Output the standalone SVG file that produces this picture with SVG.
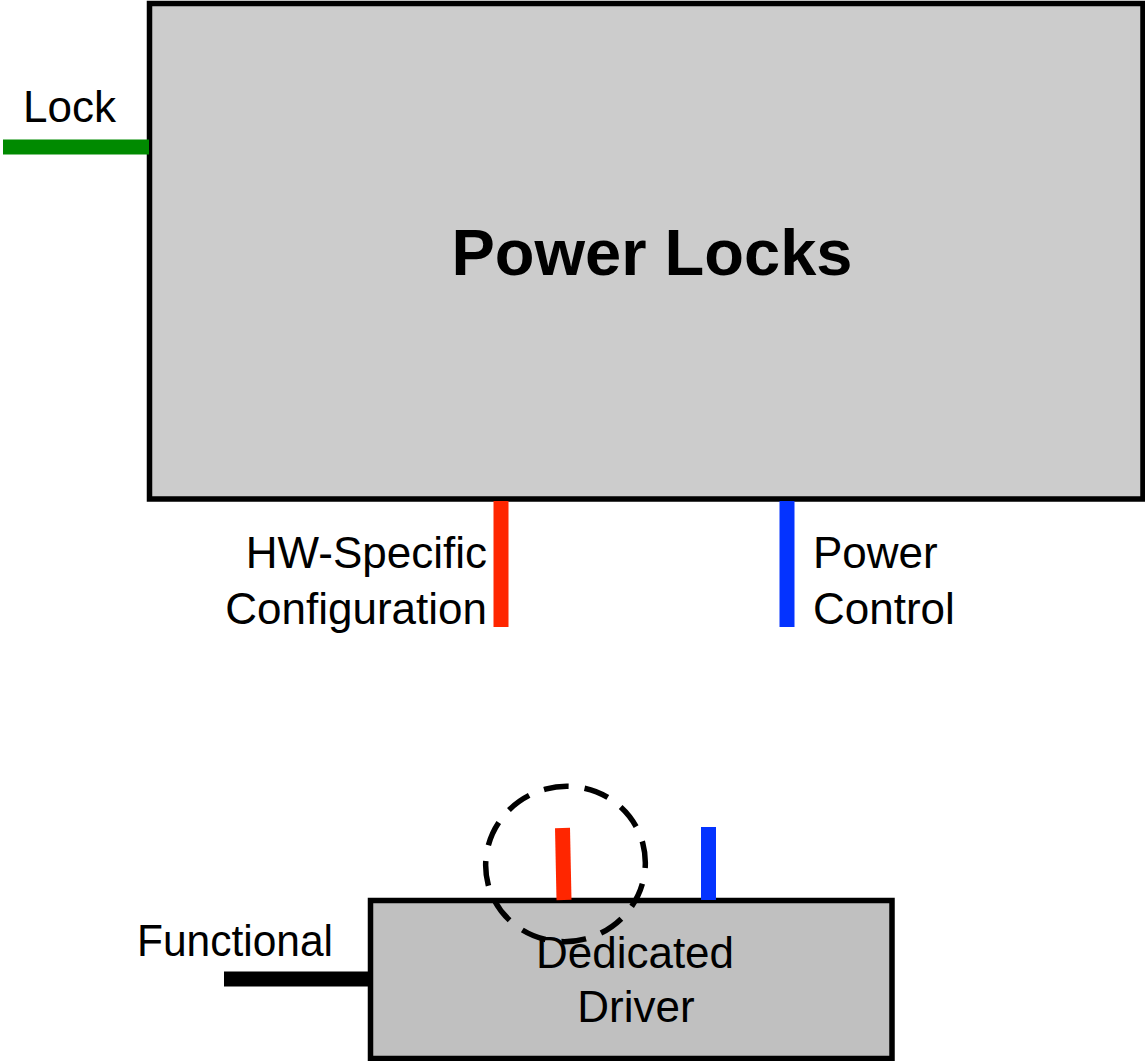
<svg xmlns="http://www.w3.org/2000/svg" width="1145" height="1061" viewBox="0 0 1145 1061">
  <style>
    .lbl { font-family: "Liberation Sans", Arial, sans-serif; font-size: 44px; fill: #000; }
    .title { font-family: "Liberation Sans", Arial, sans-serif; font-size: 65px; font-weight: bold; fill: #000; }
    .box { stroke: #000; stroke-width: 5.5; }
    .stub { stroke-width: 15; fill: none; }
  </style>
  <rect width="1145" height="1061" fill="#fff"/>
  <g id="power-locks">
    <rect class="box" x="149.5" y="3.5" width="993.5" height="495.5" fill="#cccccc"/>
    <text class="title" x="652" y="275" text-anchor="middle">Power Locks</text>
  </g>
  <g id="dedicated-driver">
    <rect class="box" x="370.5" y="900.5" width="521.5" height="158" fill="#c0c0c0"/>
    <text class="lbl" x="635" y="968" text-anchor="middle">Dedicated</text>
    <text class="lbl" x="636" y="1022" text-anchor="middle">Driver</text>
  </g>
  <g id="connectors">
    <line class="stub" x1="3" y1="147" x2="149" y2="147" stroke="#008a00"/>
    <line class="stub" x1="501" y1="501" x2="501" y2="627" stroke="#ff2600"/>
    <line class="stub" x1="787" y1="501" x2="787" y2="627" stroke="#0433ff"/>
    <line class="stub" x1="224" y1="979" x2="370" y2="979" stroke="#000"/>
    <line class="stub" x1="562.5" y1="828" x2="564" y2="900" stroke="#ff2600"/>
    <line class="stub" x1="708.5" y1="827" x2="708.5" y2="900" stroke="#0433ff"/>
  </g>
  <g id="labels">
    <text class="lbl" x="23" y="122">Lock</text>
    <text class="lbl" x="487" y="568" text-anchor="end">HW-Specific</text>
    <text class="lbl" x="487" y="624" text-anchor="end">Configuration</text>
    <text class="lbl" x="813" y="568">Power</text>
    <text class="lbl" x="813" y="624">Control</text>
    <text class="lbl" x="137" y="956" textLength="196" lengthAdjust="spacingAndGlyphs">Functional</text>
  </g>
  <g id="highlight">
    <ellipse cx="565.5" cy="864" rx="80" ry="77.5" fill="none" stroke="#000" stroke-width="5.5" stroke-dasharray="25 16" transform="rotate(-15 565.5 864)"/>
  </g>
</svg>
